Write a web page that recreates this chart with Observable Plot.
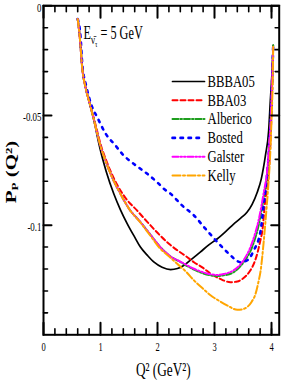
<!DOCTYPE html>
<html>
<head>
<meta charset="utf-8">
<script src="https://cdn.jsdelivr.net/npm/d3@7"></script>
<script src="https://cdn.jsdelivr.net/npm/@observablehq/plot@0.6"></script>
<style>
  html, body { margin: 0; padding: 0; background: #fff; }
  #chart svg { display: block; }
</style>
</head>
<body>
<div id="chart"></div>
<script>
// ---------------- data ----------------
const seriesNames = ["BBBA05", "BBA03", "Alberico", "Bosted", "Galster", "Kelly"];
const seriesColors = ["#000000", "#ff0000", "#1e9e1e", "#0000ff", "#ff00ff", "#ffa500"];
const seriesDash = ["none", "5,3", "6,2,1.5,2", "2.5,5.5", "6,2,1.5,2,1.5,2", "8,2.5,2,2.5"];
const seriesWidth = [1.7, 2, 2, 2.6, 2, 2];

const qBBBA05 = [0.60, 0.637, 0.678, 0.737, 0.80, 0.88, 0.94, 1.00, 1.10, 1.233, 1.35, 1.47, 1.60, 1.70, 1.82, 1.94, 2.08, 2.23, 2.35, 2.46, 2.60, 2.75, 2.90, 3.05, 3.20, 3.34, 3.46, 3.57, 3.66, 3.75, 3.82, 3.895, 3.95, 3.98, 4.01, 4.03];
const pBBBA05 = [-0.006, -0.0143, -0.028, -0.0371, -0.0435, -0.0515, -0.059, -0.066, -0.0755, -0.0857, -0.093, -0.0994, -0.1055, -0.110, -0.1137, -0.1169, -0.1192, -0.1203, -0.1198, -0.1184, -0.1155, -0.1123, -0.109, -0.1062, -0.1028, -0.0994, -0.0968, -0.0941, -0.0905, -0.085, -0.079, -0.068, -0.057, -0.043, -0.030, -0.018];

const qBBA03 = [0.60, 0.637, 0.678, 0.737, 0.80, 0.88, 0.94, 1.00, 1.10, 1.29, 1.45, 1.64, 1.82, 2.00, 2.20, 2.35, 2.50, 2.64, 2.80, 2.93, 3.10, 3.28, 3.40, 3.50, 3.63, 3.70, 3.75, 3.80, 3.84, 3.89, 3.94, 3.98, 4.01, 4.03];
const pBBA03 = [-0.006, -0.0143, -0.028, -0.0371, -0.0435, -0.051, -0.057, -0.063, -0.0705, -0.0815, -0.088, -0.0933, -0.0985, -0.1035, -0.1085, -0.1115, -0.1142, -0.1169, -0.1195, -0.1221, -0.1245, -0.126, -0.1257, -0.1243, -0.1206, -0.117, -0.113, -0.1075, -0.1024, -0.0887, -0.0796, -0.063, -0.040, -0.018];

const qAlberico = [0.60, 0.637, 0.678, 0.737, 0.80, 0.88, 0.94, 1.00, 1.10, 1.20, 1.35, 1.50, 1.70, 1.88, 2.05, 2.23, 2.40, 2.64, 2.80, 2.93, 3.05, 3.16, 3.34, 3.51, 3.66, 3.78, 3.865, 3.92, 3.96, 3.99, 4.01, 4.03];
const pAlberico = [-0.006, -0.0143, -0.028, -0.0371, -0.0435, -0.0515, -0.058, -0.064, -0.0715, -0.078, -0.0857, -0.0925, -0.0986, -0.1045, -0.110, -0.1143, -0.1168, -0.1203, -0.122, -0.1229, -0.1232, -0.1229, -0.1214, -0.1169, -0.110, -0.0994, -0.0872, -0.078, -0.065, -0.051, -0.036, -0.018];

const qBosted = [0.60, 0.65, 0.68, 0.754, 0.854, 0.942, 1.09, 1.263, 1.38, 1.58, 1.70, 1.82, 2.02, 2.11, 2.23, 2.43, 2.64, 2.84, 3.05, 3.25, 3.456, 3.57, 3.69, 3.81, 3.865, 3.92, 3.96, 3.99, 4.01, 4.03];
const pBosted = [-0.006, -0.0143, -0.0265, -0.0371, -0.0462, -0.0508, -0.0583, -0.0637, -0.0675, -0.072, -0.0743, -0.0766, -0.0811, -0.0834, -0.0857, -0.091, -0.0956, -0.1016, -0.1077, -0.113, -0.1169, -0.1161, -0.1115, -0.1024, -0.0902, -0.078, -0.064, -0.050, -0.035, -0.018];

const qGalster = [0.60, 0.637, 0.678, 0.737, 0.80, 0.88, 0.94, 1.00, 1.10, 1.20, 1.35, 1.50, 1.70, 1.88, 2.05, 2.23, 2.40, 2.64, 2.80, 2.93, 3.05, 3.16, 3.34, 3.51, 3.66, 3.78, 3.865, 3.92, 3.96, 3.99, 4.01, 4.03];
const pGalster = [-0.006, -0.0143, -0.028, -0.0371, -0.0435, -0.0515, -0.058, -0.064, -0.0715, -0.078, -0.0857, -0.0925, -0.0986, -0.1045, -0.110, -0.1143, -0.1166, -0.1199, -0.1215, -0.1224, -0.1227, -0.1223, -0.1205, -0.116, -0.108, -0.097, -0.085, -0.076, -0.063, -0.050, -0.035, -0.018];

const qKelly = [0.60, 0.637, 0.678, 0.737, 0.80, 0.88, 0.94, 1.00, 1.10, 1.20, 1.35, 1.50, 1.70, 1.88, 2.05, 2.20, 2.345, 2.50, 2.64, 2.80, 2.93, 3.08, 3.22, 3.40, 3.50, 3.57, 3.65, 3.72, 3.77, 3.81, 3.865, 3.91, 3.95, 3.98, 4.00, 4.02, 4.03];
const pKelly = [-0.006, -0.0143, -0.028, -0.0371, -0.0435, -0.0515, -0.058, -0.064, -0.0715, -0.078, -0.0857, -0.0925, -0.0988, -0.105, -0.1108, -0.1142, -0.1176, -0.1212, -0.1252, -0.129, -0.132, -0.1345, -0.1366, -0.1386, -0.1383, -0.1374, -0.135, -0.1313, -0.126, -0.1206, -0.107, -0.0933, -0.0796, -0.066, -0.052, -0.035, -0.018];

const seriesQ = [qBBBA05, qBBA03, qAlberico, qBosted, qGalster, qKelly];
const seriesP = [pBBBA05, pBBA03, pAlberico, pBosted, pGalster, pKelly];

const xDomain = [0, 4.135];
const yDomain = [-0.15, 0];
const xMajorTicks = [0, 1, 2, 3, 4];
const xTickLabels = ["0", "1", "2", "3", "4"];
const xMinorTicks = [0.2, 0.4, 0.6, 0.8, 1.2, 1.4, 1.6, 1.8, 2.2, 2.4, 2.6, 2.8, 3.2, 3.4, 3.6, 3.8, 4.0];
const yMajorTicks = [0, -0.05, -0.1];
const yTickLabels = ["0", "-0.05", "-0.1"];
const yMinorTicks = [-0.01, -0.02, -0.03, -0.04, -0.06, -0.07, -0.08, -0.09, -0.11, -0.12, -0.13, -0.14];

const xLabel = "Q² (GeV²)";
const yLabelParts = [{text: "P"}, {text: "P", size: 13, dy: 4}, {text: " (Q²)", dy: -4}];
const annotationParts = [{text: "E"}, {text: "ν\u0304", size: 13, dy: 5}, {text: "τ", size: 9, dy: 3}, {text: " = 5 GeV", dy: -8}];

// ---------------- build ----------------
const rows = [];
seriesNames.forEach((name, i) => {
  seriesQ[i].forEach((q, j) => rows.push({series: name, q, p: seriesP[i][j]}));
});

const tickShape = {draw(context, l) { context.moveTo(0, 0); context.lineTo(0, -l); }};
const font = "'Liberation Serif', 'Times New Roman', serif";

const lineMarks = seriesNames.map((name, i) =>
  Plot.line(rows.filter(d => d.series === name), {
    x: "q", y: "p", curve: "monotone-x",
    stroke: seriesColors[i], strokeWidth: seriesWidth[i],
    strokeDasharray: seriesDash[i] === "none" ? null : seriesDash[i]
  })
);

const legendMarks = seriesNames.flatMap((name, i) => [
  Plot.vector([name], {
    frameAnchor: "top-left", dx: 129, dy: 75.7 + i * 18.8,
    length: 32, rotate: 90, anchor: "start", shape: tickShape,
    stroke: seriesColors[i], strokeWidth: seriesWidth[i],
    strokeDasharray: seriesDash[i] === "none" ? null : seriesDash[i]
  }),
  Plot.text([name], {
    text: d => d, frameAnchor: "top-left", dx: 164, dy: 75.7 + i * 18.8,
    textAnchor: "start", lineAnchor: "middle", fontSize: 16.5, fill: "black",
    fontFamily: font, ariaDescription: "legend"
  })
]);

const tickMarks = [
  Plot.vector(xMajorTicks, {x: d => d, frameAnchor: "bottom", length: 12, rotate: 0, anchor: "start", shape: tickShape, stroke: "black", strokeWidth: 2}),
  Plot.vector(xMinorTicks, {x: d => d, frameAnchor: "bottom", length: 6, rotate: 0, anchor: "start", shape: tickShape, stroke: "black", strokeWidth: 1.6}),
  Plot.vector(xMajorTicks, {x: d => d, frameAnchor: "top", length: 12, rotate: 180, anchor: "start", shape: tickShape, stroke: "black", strokeWidth: 2}),
  Plot.vector(xMinorTicks, {x: d => d, frameAnchor: "top", length: 6, rotate: 180, anchor: "start", shape: tickShape, stroke: "black", strokeWidth: 1.6}),
  Plot.vector(yMajorTicks, {y: d => d, frameAnchor: "left", length: 8, rotate: 90, anchor: "start", shape: tickShape, stroke: "black", strokeWidth: 2}),
  Plot.vector(yMinorTicks, {y: d => d, frameAnchor: "left", length: 4, rotate: 90, anchor: "start", shape: tickShape, stroke: "black", strokeWidth: 1.6}),
  Plot.vector(yMajorTicks, {y: d => d, frameAnchor: "right", length: 8, rotate: 270, anchor: "start", shape: tickShape, stroke: "black", strokeWidth: 2}),
  Plot.vector(yMinorTicks, {y: d => d, frameAnchor: "right", length: 4, rotate: 270, anchor: "start", shape: tickShape, stroke: "black", strokeWidth: 1.6})
];

const xLabelMap = new Map(xMajorTicks.map((v, i) => [v, xTickLabels[i]]));
const yLabelMap = new Map(yMajorTicks.map((v, i) => [v, yTickLabels[i]]));

const chart = Plot.plot({
  width: 284,
  height: 382,
  marginLeft: 43,
  marginRight: 5.3,
  marginTop: 5.3,
  marginBottom: 47.7,
  style: {fontFamily: font, background: "white", color: "black"},
  x: {domain: xDomain},
  y: {domain: yDomain},
  marks: [
    ...lineMarks,
    ...tickMarks,
    Plot.frame({stroke: "black", strokeWidth: 2}),
    Plot.axisX(xMajorTicks, {anchor: "bottom", tickSize: 0, tickPadding: 7.5, fontSize: 12.5, fontFamily: font, label: null, tickFormat: d => xLabelMap.get(d), ariaDescription: "xticks"}),
    Plot.axisY(yMajorTicks, {anchor: "left", tickSize: 0, tickPadding: 2, dy: 1.5, fontSize: 13.5, fontFamily: font, label: null, tickFormat: d => yLabelMap.get(d), ariaDescription: "yticks"}),
    Plot.text([xLabel], {text: d => d, frameAnchor: "bottom", dx: 2, dy: 40.7, textAnchor: "middle", lineAnchor: "bottom", fontSize: 19, fontFamily: font, fill: "black", ariaDescription: "xlabel"}),
    Plot.text([yLabelParts.map(p => p.text).join("")], {text: d => d, frameAnchor: "left", dx: -28, dy: 1.7, rotate: -90, textAnchor: "middle", lineAnchor: "bottom", fontSize: 21, fontWeight: "bold", fontFamily: font, fill: "black", ariaDescription: "ylabel"}),
    Plot.text([annotationParts.map(p => p.text).join("")], {text: d => d, frameAnchor: "top-left", dx: 40, dy: 33, textAnchor: "start", lineAnchor: "bottom", fontSize: 18, fontFamily: font, fill: "black", ariaDescription: "annotation"}),
    ...legendMarks
  ]
});

document.getElementById("chart").appendChild(chart);

// rich text (sub/superscripts)
const NS = "http://www.w3.org/2000/svg";
function setRich(label, parts) {
  const g = chart.querySelector(`g[aria-description="${label}"]`);
  if (!g) return;
  const t = g.querySelector("text");
  if (!t) return;
  t.textContent = "";
  parts.forEach(p => {
    const s = document.createElementNS(NS, "tspan");
    s.textContent = p.text;
    if (p.size) s.setAttribute("font-size", p.size);
    if (p.dy) s.setAttribute("dy", p.dy);
    t.appendChild(s);
  });
}
setRich("ylabel", yLabelParts);
setRich("annotation", annotationParts);

// horizontally condensed type, as in the reference
const squeeze = {"legend": 0.77, "xlabel": 0.7, "ylabel": 0.68, "annotation": 0.68, "yticks": 0.66, "xticks": 0.68};
chart.querySelectorAll("text").forEach(t => {
  const g = t.closest("g[aria-description]");
  const lab = g ? g.getAttribute("aria-description") : "";
  const s = squeeze[lab] ?? 0.68;
  let tr = t.getAttribute("transform");
  if (!tr) {
    const x = t.getAttribute("x"), y = t.getAttribute("y");
    const xn = x && !/em$/.test(x) ? +x : 0;
    const yn = y && !/em$/.test(y) ? +y : 0;
    if (x && !/em$/.test(x)) t.removeAttribute("x");
    if (y && !/em$/.test(y)) t.removeAttribute("y");
    tr = `translate(${xn},${yn})`;
  }
  const rotated = /rotate/.test(tr);
  t.setAttribute("transform", tr + (rotated ? ` scale(1,${s})` : ` scale(${s},1)`));
});

// safety: keep annotation and x label where intended relative to the frame
function pin(desc, wantX, wantY, useCenter) {
  const g = chart.querySelector(`g[aria-description="${desc}"]`);
  if (!g) return;
  const sr = chart.getBoundingClientRect();
  const r = g.getBoundingClientRect();
  const curX = (useCenter ? r.left + r.width / 2 : r.left) - sr.left;
  const curY = r.top - sr.top;
  const ddx = wantX - curX, ddy = wantY - curY;
  if (Math.abs(ddx) > 2 || Math.abs(ddy) > 2) {
    const tr = g.getAttribute("transform") || "";
    g.setAttribute("transform", `translate(${ddx},${ddy}) ` + tr);
  }
}
pin("annotation", 84, 23, false);
pin("xlabel", 163, 359, true);
</script>
</body>
</html>
